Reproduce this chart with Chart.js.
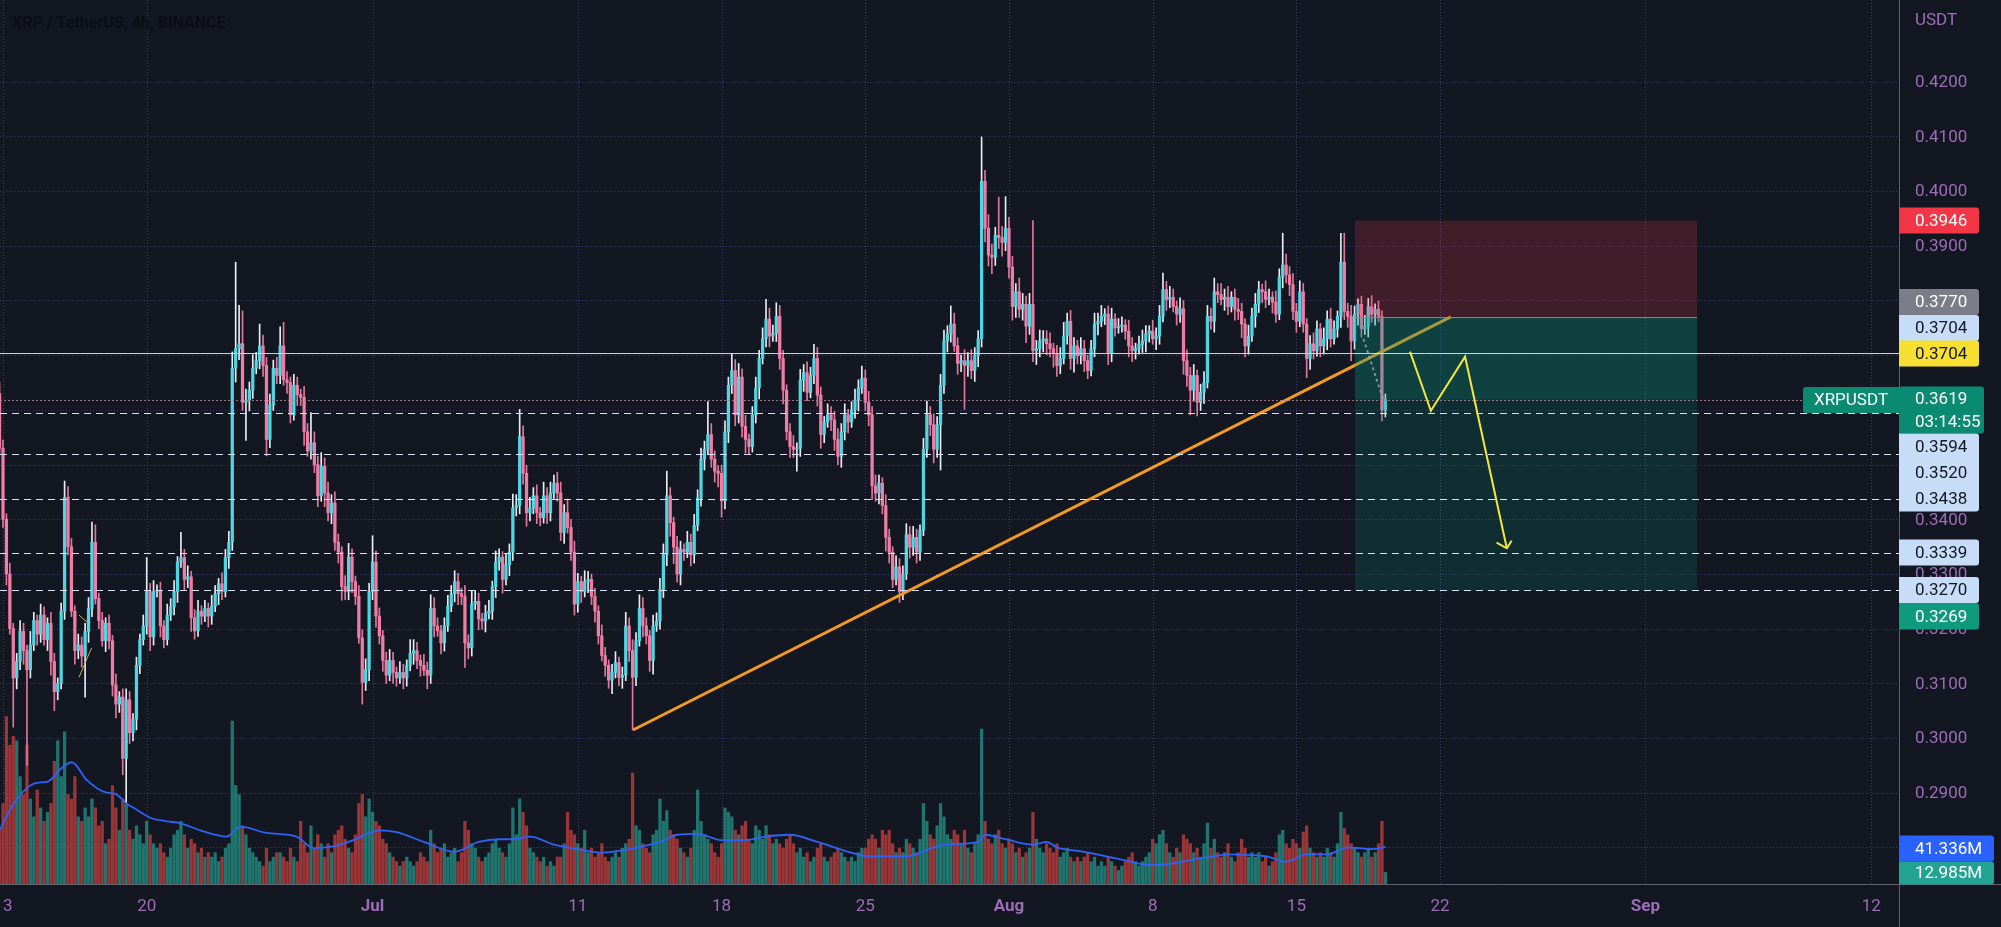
<!DOCTYPE html>
<html lang="en">
<head>
<meta charset="utf-8">
<title>XRP / TetherUS, 4h, BINANCE</title>
<script src="https://cdn.jsdelivr.net/npm/chart.js@4.4.1/dist/chart.umd.min.js"></script>
<style>
  html, body { margin: 0; padding: 0; background: #131722; overflow: hidden; }
  canvas { display: block; }
</style>
</head>
<body>
<canvas id="xrpChart" width="2001" height="927"></canvas>
<script>
/**
 * XRP / TetherUS 4h candles (Binance), drawn with Chart.js floating bars.
 * Bar index 0 = 13 Jun 00:00, one step = 4 hours. Prices are in 1/10000 USDT.
 */
const FIRST_BAR = -1;
const FIRST_OPEN = 3630;

const closes = [
    // -1 .. 80
    3530, 3400, 3300, 3200, 3110, 3140, 3195, 3160, 3125, 3170,
    3215, 3190, 3225, 3180, 3210, 3140, 3085, 3100, 3232, 3440,
    3350, 3232, 3160, 3170, 3150, 3195, 3237, 3358, 3255, 3215,
    3178, 3210, 3178, 3097, 3062, 3075, 2963, 3070, 3010, 3035,
    3133, 3180, 3205, 3268, 3185, 3268, 3270, 3205, 3180, 3225,
    3240, 3268, 3322, 3330, 3290, 3295, 3220, 3196, 3232, 3223,
    3237, 3223, 3241, 3264, 3282, 3268, 3330, 3358, 3676, 3712,
    3721, 3614, 3618, 3636, 3676, 3690, 3717, 3681, 3546, 3609,
    3676, 3663, 3717, 3655, 3650, 3591, 3645, 3628, 3623, 3560,
    3525, 3540, 3500, 3443, 3497, 3448, 3412, 3430, 3358, 3340,
    3277, 3268, 3331, 3286, 3259, 3183, 3102, 3125, 3268, 3322,
    3223, 3187, 3142, 3115, 3142, 3120, 3110, 3120, 3110, 3133,
    3155, 3160, 3142, 3133, 3124, 3115, 3237, 3205, 3196, 3174,
    3205, 3241, 3264, 3286, 3264, 3259, 3174, 3165, 3245, 3250,
    3218, 3214, 3228, 3232, 3277, 3322, 3331, 3290, 3317, 3340,
    3421, 3425, 3551, 3484, 3412, 3420, 3443, 3412, 3403, 3443,
    3412, 3448, 3466, 3448, 3376, 3412, 3385, 3340, 3245, 3286,
    3268, 3286, 3290, 3259, 3232, 3187, 3151, 3133, 3106, 3120,
    3138, 3111, 3115, 3205, 3160, 3111, 3178, 3237, 3205, 3187,
    3142, 3205, 3214, 3272, 3335, 3443, 3394, 3349, 3300, 3345,
    3340, 3358, 3335, 3389, 3439, 3510, 3528, 3555, 3510, 3488,
    3484, 3434, 3560, 3645, 3672, 3591, 3660, 3570, 3546, 3533,
    3591, 3640, 3694, 3730, 3766, 3735, 3740, 3771, 3694, 3636,
    3560, 3533, 3528, 3530, 3654, 3668, 3632, 3663, 3694, 3627,
    3555, 3578, 3591, 3582, 3546, 3515, 3560, 3591, 3578, 3600,
    3618, 3640, 3658, 3614, 3591, 3461, 3448, 3466, 3425, 3367,
    3340, 3290, 3313, 3268, 3300, 3372, 3349, 3367, 3340, 3380,
    3528, 3591, 3573, 3528, 3573, 3645, 3726, 3739, 3757, 3717,
    3685, 3690, 3681, 3690, 3672, 3699, 3730, 4018, 3932, 3883,
    3879, 3919, 3915, 3906, 3932, 3861, 3789, 3816, 3784, 3793,
    3753, 3793, 3708, 3712, 3726, 3730, 3721, 3712, 3703, 3681,
    3694, 3735, 3762, 3694, 3717, 3699, 3712, 3690, 3672, 3712,
    3757, 3762, 3771, 3775, 3703, 3766, 3750, 3752, 3755, 3744,
    3717, 3708, 3712, 3720, 3726, 3739, 3744, 3730, 3735, 3771,
    3820, 3802, 3806, 3789, 3775, 3785, 3690, 3663, 3636, 3663,
    3614, 3632, 3650, 3771, 3762, 3816, 3811, 3802, 3806, 3789,
    3806, 3784, 3780, 3757, 3717, 3735, 3771, 3793, 3820, 3816,
    3802, 3806, 3797, 3775, 3843, 3865, 3847, 3829, 3780, 3762,
    3816, 3757, 3694, 3721, 3708, 3748, 3717, 3730, 3766, 3730,
    3748, 3771, 3870, 3780, 3771, 3726, 3775, 3793, 3748, 3753,
    3789, 3775, 3784, 3771, 3600, 3619
];

// wick length above the body / below the body, same units
const wickUp = [
    20, 15, 10, 20, 10, 15, 20, 15, 10, 25,
    15, 10, 20, 15, 10, 20, 15, 10, 15, 30,
    20, 15, 10, 20, 15, 15, 20, 37, 32, 10,
    15, 10, 15, 10, 20, 10, 15, 20, 15, 10,
    15, 10, 20, 62, 15, 20, 10, 15, 10, 20,
    15, 20, 10, 46, 15, 20, 10, 15, 20, 10,
    15, 10, 20, 15, 10, 20, 15, 20, 30, 158,
    70, 60, 20, 15, 25, 15, 40, 20, 15, 20,
    15, 20,
    35, 43, 15, 10, 20, 15, 10, 20, 15, 55,
    20, 15, 25, 15, 20, 15, 20, 15, 10, 20,
    25, 15, 10, 20, 15, 20, 15, 48, 20, 15,
    10, 15, 20, 15, 10, 20, 15, 10, 25, 20,
    15, 10, 20, 15, 25, 20, 15, 10, 15, 20,
    15, 20, 15, 10, 20, 15, 25, 20, 15, 10,
    15, 20, 10, 20, 15, 10, 20, 15, 25, 20,
    50, 20, 15, 20, 15, 20, 10, 25, 15, 20,
    15, 20,
    20, 15, 25, 15, 20, 15, 10, 20, 15, 10,
    15, 10, 20, 15, 10, 15, 20, 10, 15, 25,
    15, 20, 15, 25, 20, 15, 10, 20, 15, 20,
    20, 45, 15, 10, 20, 15, 10, 20, 15, 20,
    15, 20, 15, 60, 20, 15, 10, 15, 20, 15,
    30, 20, 25, 15, 20, 10, 15, 20, 15, 20,
    36, 20, 15, 25, 20, 15, 10, 15, 20, 10,
    20, 15, 20, 15, 26, 20, 15, 10, 20, 15,
    15, 20,
    15, 20, 10, 15, 20, 15, 22, 15, 20, 15,
    20, 15, 10, 20, 15, 10, 20, 15, 15, 20,
    15, 20, 15, 10, 20, 25, 15, 20, 15, 20,
    20, 15, 33, 20, 15, 10, 20, 15, 20, 15,
    15, 81, 20, 25, 20, 15, 70, 20, 58, 20,
    20, 15, 25, 20, 15, 20, 153, 15, 20, 15,
    15, 20, 10, 15, 20, 25, 15, 20, 15, 10,
    20, 15, 10, 15, 20, 15, 20, 10, 15, 20,
    10, 15,
    15, 10, 20, 15, 10, 15, 20, 15, 10, 20,
    15, 20, 30, 15, 20, 15, 10, 20, 15, 20,
    15, 20, 10, 15, 20, 20, 15, 25, 15, 20,
    15, 20, 10, 15, 20, 15, 10, 20, 15, 20,
    15, 10, 20, 15, 10, 20, 15, 58, 20, 15,
    20, 15, 20, 15, 10, 15, 20, 15, 10, 20,
    15, 20, 15, 10, 53, 53, 15, 20, 15, 10,
    15, 20, 15, 20, 10, 15, 10, 10
];

const wickDown = [
    10, 15, 20, 10, 90, 20, 15, 25, 175, 15,
    10, 20, 15, 10, 20, 25, 35, 15, 10, 15,
    15, 10, 25, 15, 20, 75, 20, 15, 10, 15,
    10, 20, 15, 20, 25, 15, 30, 80, 20, 15,
    20, 15, 10, 15, 25, 15, 10, 20, 15, 10,
    10, 15, 20, 10, 20, 15, 25, 15, 10, 15,
    10, 20, 15, 10, 20, 15, 10, 20, 15, 25,
    20, 15, 70, 20, 15, 10, 15, 20, 30, 15,
    10, 15,
    15, 10, 20, 15, 10, 20, 15, 25, 10, 15,
    15, 20, 10, 25, 15, 20, 15, 20, 25, 15,
    15, 20, 15, 10, 40, 15, 20, 15, 20, 15,
    20, 15, 10, 20, 15, 10, 20, 15, 10, 20,
    15, 20, 10, 25, 15, 20, 10, 20, 15, 10,
    10, 15, 20, 15, 45, 20, 15, 10, 20, 15,
    20, 10, 15, 20, 15, 25, 10, 20, 15, 15,
    15, 20, 25, 15, 10, 20, 15, 10, 20, 15,
    10, 15,
    15, 20, 10, 15, 20, 15, 20, 10, 20, 15,
    20, 15, 10, 20, 15, 25, 10, 15, 20, 10,
    20, 96, 15, 10, 20, 15, 20, 25, 10, 15,
    15, 20, 25, 30, 15, 20, 15, 10, 20, 15,
    10, 15, 20, 10, 15, 20, 25, 30, 15, 20,
    15, 20, 15, 20, 25, 15, 10, 15, 20, 10,
    15, 20, 10, 15, 20, 25, 15, 20, 15, 40,
    15, 20, 15, 10, 15, 20, 25, 15, 10, 20,
    20, 15,
    20, 15, 20, 10, 15, 20, 10, 15, 20, 25,
    15, 20, 15, 25, 20, 15, 10, 20, 15, 10,
    20, 15, 20, 15, 10, 15, 20, 25, 15, 83,
    15, 20, 15, 10, 20, 15, 80, 20, 15, 20,
    20, 15, 25, 20, 30, 15, 20, 25, 15, 20,
    25, 20, 15, 20, 30, 15, 20, 25, 15, 20,
    20, 15, 25, 20, 15, 10, 15, 20, 25, 15,
    15, 20, 15, 10, 15, 20, 10, 15, 20, 15,
    15, 10,
    10, 15, 20, 20, 15, 10, 15, 20, 15, 10,
    20, 15, 10, 20, 15, 10, 20, 15, 25, 20,
    45, 20, 25, 15, 20, 10, 15, 20, 15, 10,
    20, 15, 10, 20, 15, 25, 20, 15, 10, 20,
    15, 20, 15, 10, 20, 15, 10, 20, 15, 20,
    15, 20, 10, 15, 35, 20, 15, 10, 20, 15,
    20, 15, 10, 15, 20, 15, 20, 36, 15, 20,
    15, 10, 20, 15, 20, 10, 20, 13
];

// volume per candle, millions of XRP
const volumes = [
    60, 90, 187, 155, 165, 160, 120, 100, 155, 95,
    75, 105, 85, 70, 80, 90, 137, 160, 120, 170,
    100, 95, 120, 75, 70, 85, 75, 95, 85, 65,
    70, 45, 50, 110, 85, 60, 95, 90, 60, 50,
    65, 55, 45, 70, 55, 45, 40, 45, 35, 30,
    40, 55, 60, 70, 55, 40, 50, 45, 35, 40,
    30, 35, 30, 35, 25, 30, 40, 45, 182, 110,
    100, 65, 55, 40, 35, 30, 25, 20, 40, 25,
    30, 35,
    35, 30, 25, 40, 30, 25, 70, 45, 35, 65,
    40, 55, 45, 30, 45, 35, 55, 60, 65, 50,
    40, 35, 55, 90, 100, 75, 95, 80, 70, 65,
    50, 45, 35, 30, 25, 20, 25, 30, 25, 20,
    25, 35, 30, 25, 60, 45, 35, 40, 45, 30,
    35, 40, 25, 35, 70, 60, 45, 40, 30, 25,
    30, 35, 45, 50, 40, 35, 30, 45, 85, 55,
    95, 80, 65, 40, 35, 30, 25, 30, 20, 25,
    20, 30,
    30, 45, 80, 60, 55, 45, 40, 60, 35, 40,
    30, 35, 45, 30, 25, 30, 35, 30, 40, 45,
    50, 124, 65, 60, 45, 40, 35, 55, 60, 95,
    70, 82, 60, 55, 50, 40, 35, 30, 40, 60,
    105, 70, 55, 50, 45, 35, 30, 45, 85, 80,
    75, 60, 55, 65, 70, 50, 45, 65, 60, 50,
    65, 55, 45, 50, 45, 40, 50, 55, 45, 35,
    40, 30, 35, 25, 30, 40, 45, 30, 25, 30,
    35, 40,
    35, 30, 25, 30, 25, 35, 40, 40, 50, 55,
    50, 40, 60, 55, 60, 45, 35, 40, 35, 50,
    45, 40, 35, 50, 90, 70, 55, 50, 65, 90,
    75, 55, 50, 60, 55, 45, 60, 40, 35, 45,
    55, 173, 70, 50, 45, 55, 60, 45, 40, 50,
    45, 35, 40, 30, 35, 40, 80, 50, 40, 35,
    45, 40, 35, 45, 30, 35, 40, 30, 25, 30,
    25, 30, 35, 25, 30, 20, 25, 20, 30, 25,
    20, 15,
    20, 25, 30, 35, 25, 20, 25, 30, 35, 50,
    45, 55, 60, 45, 35, 30, 40, 35, 55, 50,
    45, 35, 40, 30, 45, 68, 40, 50, 35, 30,
    35, 45, 30, 25, 35, 50, 40, 30, 35, 30,
    35, 25, 30, 20, 25, 35, 55, 60, 45, 40,
    50, 45, 40, 58, 65, 40, 35, 30, 35, 30,
    40, 35, 30, 45, 80, 62, 55, 45, 40, 35,
    30, 35, 40, 30, 35, 45, 70, 12.985
];

// volume moving average, read at a few bars
const volMaBars = [-1, 3.5, 9.8, 12.8, 17.6, 20.1, 24.5, 30.3, 32.7, 36.1, 39.1, 43, 47.8, 51.7, 57.6,
    65.4, 69.3, 77.1, 85.8, 90.7, 96.5, 102.4, 110.2, 115, 123, 132, 139, 145, 149, 154, 161, 165, 175,
    183, 192, 197, 203, 210, 217, 223, 230, 238, 247, 253, 264, 275, 285, 287, 293, 301, 305, 308, 316,
    326, 336, 352, 358, 369, 375, 381, 387, 393, 400, 404];
const volMaValues = [60, 92, 113, 114, 131, 136, 116, 102, 101, 90, 83, 74, 70, 68, 60,
    53, 64, 57, 53, 40, 42, 49, 60, 58, 47, 36, 47, 50, 50, 53, 44, 41, 35,
    39, 47, 55, 56, 49, 49, 53, 55, 47, 36, 31, 31, 44, 47, 55, 50, 44, 47, 41, 36,
    28, 21, 30, 33, 31, 25, 33, 33, 41, 39, 41.336];

// axis labels
const xTickBars = [0, 42, 108, 168, 210, 252, 294, 336, 378, 420, 480, 546];
const xTickLabels = ['13', '20', 'Jul', '11', '18', '25', 'Aug', '8', '15', '22', 'Sep', '12'];
const monthLabels = ['Jul', 'Aug', 'Sep'];
const priceTicks = [0.28, 0.29, 0.30, 0.31, 0.32, 0.33, 0.34, 0.35, 0.36, 0.37, 0.38, 0.39, 0.40, 0.41, 0.42];

// drawings
const pivotPrice = 0.3704;
const levelPrices = [0.3594, 0.3520, 0.3438, 0.3339, 0.3270];
const lastPrice = 0.3619;
const stopPrice = 0.3946;
const entryPrice = 0.3770;
const targetPrice = 0.3269;
const positionBars = [395.1, 495.1];
const trendBars = [184.1, 423.1];
const trendPrices = [0.30148, 0.3770];
const arrowBars = [411.2, 417.3, 427.3, 439.5];
const arrowPrices = [0.37064, 0.35985, 0.36973, 0.33470];
const arrowHeadBars = [436.5, 439.5, 440.9];
const arrowHeadPrices = [0.33572, 0.33470, 0.33609];
const projBars = [397.6, 403.4];
const projPrices = [0.3730, 0.3618];
const markBars = [[22.2, 24.9], [22.2, 25.9]];
const markPrices = [[0.3225, 0.3210], [0.3111, 0.3165]];

const BG = '#131722';
const AXIS_TEXT = '#9d6db6';
const GRID = 'rgba(96, 88, 178, 0.55)';
const UP_BODY = '#4fd6e3';
const DOWN_BODY = '#ef7ea6';
const UP_WICK = '#e6edf5';
const DOWN_WICK = '#e2779e';
const VOL_UP = 'rgba(38, 150, 138, 0.75)';
const VOL_DOWN = 'rgba(200, 64, 64, 0.75)';
const FONT = "Roboto, 'Noto Sans', sans-serif";

const toPrice = v => v / 10000;
const barIdx = closes.map((c, i) => FIRST_BAR + i);
const opens = closes.map((c, i) => (i === 0 ? FIRST_OPEN : closes[i - 1]));
const isUp = closes.map((c, i) => c >= opens[i]);

const bodyData = closes.map((c, i) => ({ x: barIdx[i], y: [toPrice(opens[i]), toPrice(c)] }));
const wickData = closes.map((c, i) => ({
    x: barIdx[i],
    y: [toPrice(Math.min(opens[i], c) - wickDown[i]), toPrice(Math.max(opens[i], c) + wickUp[i])]
}));
const volData = volumes.map((v, i) => ({ x: barIdx[i], y: v }));
const volMaData = volMaBars.map((b, i) => ({ x: b, y: volMaValues[i] }));

/**
 * Price tag on the right axis
 */
function drawTag(ctx, yTop, h, w, bg, fg, lines) {
    ctx.fillStyle = bg;
    ctx.beginPath();
    ctx.roundRect(1899, yTop, w, h, [0, 3, 3, 0]);
    ctx.fill();
    ctx.fillStyle = fg;
    ctx.font = `17px ${FONT}`;
    ctx.textAlign = 'left';
    ctx.textBaseline = 'middle';
    const step = h / lines.length;
    lines.forEach((t, i) => ctx.fillText(t, 1915, yTop + step * (i + 0.5) + 1));
}

const overlayPlugin = {
    id: 'overlay',
    beforeDraw(chart) {
        const { ctx } = chart;
        ctx.save();
        ctx.fillStyle = BG;
        ctx.fillRect(0, 0, chart.width, chart.height);
        ctx.restore();
    },
    beforeDatasetsDraw(chart) {
        const { ctx, chartArea: a, scales: { x, y } } = chart;
        ctx.save();
        ctx.strokeStyle = GRID;
        ctx.lineWidth = 1;
        ctx.setLineDash([1, 2]);
        ctx.beginPath();
        xTickBars.forEach(b => {
            const X = Math.round(x.getPixelForValue(b)) + 0.5;
            ctx.moveTo(X, a.top);
            ctx.lineTo(X, a.bottom);
        });
        priceTicks.forEach(p => {
            const Y = Math.round(y.getPixelForValue(p)) + 0.5;
            ctx.moveTo(a.left, Y);
            ctx.lineTo(a.right, Y);
        });
        ctx.stroke();
        ctx.restore();
    },
    afterDatasetsDraw(chart) {
        const { ctx, chartArea: a, scales: { x, y } } = chart;
        const sx = v => x.getPixelForValue(v);
        const sy = v => y.getPixelForValue(v);
        ctx.save();
        ctx.beginPath();
        ctx.rect(a.left, a.top, a.right - a.left, a.bottom - a.top);
        ctx.clip();

        // short position box
        const x0 = sx(positionBars[0]), x1 = sx(positionBars[1]);
        ctx.fillStyle = 'rgba(242, 54, 69, 0.2)';
        ctx.fillRect(x0, sy(stopPrice), x1 - x0, sy(entryPrice) - sy(stopPrice));
        ctx.fillStyle = 'rgba(8, 153, 129, 0.18)';
        ctx.fillRect(x0, sy(entryPrice), x1 - x0, sy(targetPrice) - sy(entryPrice));
        ctx.fillRect(x0, sy(entryPrice), x1 - x0, sy(lastPrice) - sy(entryPrice));
        ctx.strokeStyle = '#858893';
        ctx.lineWidth = 1;
        ctx.beginPath();
        ctx.moveTo(x0, Math.round(sy(entryPrice)) + 0.5);
        ctx.lineTo(x1, Math.round(sy(entryPrice)) + 0.5);
        ctx.stroke();

        const hLine = (p, color, dash) => {
            const Y = Math.round(sy(p)) + 0.5;
            ctx.strokeStyle = color;
            ctx.setLineDash(dash);
            ctx.beginPath();
            ctx.moveTo(a.left, Y);
            ctx.lineTo(a.right, Y);
            ctx.stroke();
        };
        hLine(pivotPrice, '#c9d2ee', []);
        levelPrices.forEach(p => hLine(p, '#d9e1f4', [7, 5]));
        hLine(lastPrice, 'rgba(175, 130, 150, 0.85)', [2, 2]);

        // grey projected path on the last candles
        ctx.strokeStyle = 'rgba(170, 172, 182, 0.75)';
        ctx.lineWidth = 2;
        ctx.setLineDash([3, 3]);
        ctx.beginPath();
        ctx.moveTo(sx(projBars[0]), sy(projPrices[0]));
        ctx.lineTo(sx(projBars[1]), sy(projPrices[1]));
        ctx.stroke();

        // yellow path with arrow
        ctx.setLineDash([]);
        ctx.strokeStyle = '#f3e63f';
        ctx.lineWidth = 2;
        ctx.beginPath();
        arrowBars.forEach((b, i) => {
            if (i === 0) ctx.moveTo(sx(b), sy(arrowPrices[i]));
            else ctx.lineTo(sx(b), sy(arrowPrices[i]));
        });
        ctx.stroke();
        ctx.beginPath();
        arrowHeadBars.forEach((b, i) => {
            if (i === 0) ctx.moveTo(sx(b), sy(arrowHeadPrices[i]));
            else ctx.lineTo(sx(b), sy(arrowHeadPrices[i]));
        });
        ctx.stroke();

        // small marks near 17 Jun
        ctx.strokeStyle = '#cdb04a';
        ctx.lineWidth = 1;
        markBars.forEach((bs, i) => {
            ctx.beginPath();
            ctx.moveTo(sx(bs[0]), sy(markPrices[i][0]));
            ctx.lineTo(sx(bs[1]), sy(markPrices[i][1]));
            ctx.stroke();
        });
        ctx.restore();
    },
    afterDraw(chart) {
        const { ctx, scales: { x, y } } = chart;
        ctx.save();
        // axis borders
        ctx.strokeStyle = '#5f626d';
        ctx.lineWidth = 1;
        ctx.beginPath();
        ctx.moveTo(1899.5, 0);
        ctx.lineTo(1899.5, 927);
        ctx.moveTo(0, 884.5);
        ctx.lineTo(2001, 884.5);
        ctx.stroke();

        // tick labels, placed through the chart scales
        ctx.fillStyle = AXIS_TEXT;
        ctx.textBaseline = 'middle';
        ctx.textAlign = 'left';
        ctx.font = `17px ${FONT}`;
        priceTicks.forEach(p => ctx.fillText(p.toFixed(4), 1915, y.getPixelForValue(p) + 1));
        ctx.textAlign = 'center';
        xTickBars.forEach((b, i) => {
            const bold = monthLabels.includes(xTickLabels[i]);
            ctx.font = `${bold ? 'bold ' : ''}17px ${FONT}`;
            ctx.fillText(xTickLabels[i], x.getPixelForValue(b), 907);
        });

        // price tags
        const LIGHT = '#c7dcf6';
        const DARK = '#131722';
        drawTag(ctx, 207.5, 26, 80, '#f23645', '#ffffff', [stopPrice.toFixed(4)]);
        drawTag(ctx, 289, 26, 80, '#7b7e89', '#ffffff', [entryPrice.toFixed(4)]);
        drawTag(ctx, 315, 26, 80, LIGHT, DARK, [pivotPrice.toFixed(4)]);
        drawTag(ctx, 340.5, 26, 80, '#f8e033', DARK, [pivotPrice.toFixed(4)]);
        drawTag(ctx, 386.5, 47, 85, '#0b8a72', '#ffffff', [lastPrice.toFixed(4), '03:14:55']);
        drawTag(ctx, 433.5, 78, 80, LIGHT, DARK, levelPrices.slice(0, 3).map(p => p.toFixed(4)));
        drawTag(ctx, 539.5, 26, 80, LIGHT, DARK, [levelPrices[3].toFixed(4)]);
        drawTag(ctx, 577, 26, 80, LIGHT, DARK, [levelPrices[4].toFixed(4)]);
        drawTag(ctx, 603, 26.5, 80, '#109a7d', '#ffffff', [targetPrice.toFixed(4)]);
        drawTag(ctx, 835.5, 26, 95, '#2962ff', '#ffffff', [volMaValues[volMaValues.length - 1].toFixed(3) + 'M']);
        drawTag(ctx, 861.5, 23, 95, '#22a394', '#ffffff', [volumes[volumes.length - 1].toFixed(3) + 'M']);

        // symbol tag left of the axis
        ctx.fillStyle = '#0b8a72';
        ctx.beginPath();
        ctx.roundRect(1803, 387, 96, 26, [3, 0, 0, 3]);
        ctx.fill();
        ctx.fillStyle = '#ffffff';
        ctx.font = `17px ${FONT}`;
        ctx.textAlign = 'center';
        ctx.textBaseline = 'middle';
        ctx.fillText('XRPUSDT', 1851, 401);

        // currency and title
        ctx.fillStyle = AXIS_TEXT;
        ctx.textAlign = 'left';
        ctx.fillText('USDT', 1915, 21);
        ctx.fillStyle = '#0b0e15';
        ctx.font = `bold 16px ${FONT}`;
        ctx.fillText('XRP / TetherUS, 4h, BINANCE', 12, 24);
        ctx.restore();
    }
};

const ctx = document.getElementById('xrpChart');

new Chart(ctx, {
    type: 'bar',
    data: {
        datasets: [
            {
                label: 'Volume',
                type: 'bar',
                yAxisID: 'yv',
                data: volData,
                backgroundColor: isUp.map(u => (u ? VOL_UP : VOL_DOWN)),
                barThickness: 2.6,
                grouped: false,
                order: 10
            },
            {
                label: 'Volume MA',
                type: 'line',
                yAxisID: 'yv',
                data: volMaData,
                borderColor: '#2f62f5',
                borderWidth: 1.8,
                pointRadius: 0,
                cubicInterpolationMode: 'monotone',
                order: 9
            },
            {
                label: 'Wicks',
                type: 'bar',
                yAxisID: 'y',
                data: wickData,
                backgroundColor: isUp.map(u => (u ? UP_WICK : DOWN_WICK)),
                barThickness: 1,
                grouped: false,
                order: 6
            },
            {
                label: 'Bodies',
                type: 'bar',
                yAxisID: 'y',
                data: bodyData,
                backgroundColor: isUp.map(u => (u ? UP_BODY : DOWN_BODY)),
                barThickness: 2.6,
                grouped: false,
                order: 5
            },
            {
                label: 'Trendline',
                type: 'line',
                yAxisID: 'y',
                data: trendBars.map((b, i) => ({ x: b, y: trendPrices[i] })),
                borderColor: '#f39a1f',
                borderWidth: 3,
                pointRadius: 0,
                order: 4
            }
        ]
    },
    options: {
        responsive: false,
        animation: false,
        events: [],
        layout: { padding: 0, autoPadding: false },
        plugins: {
            legend: { display: false },
            tooltip: { enabled: false }
        },
        scales: {
            x: {
                type: 'linear',
                position: 'bottom',
                min: -0.877,
                max: 554.11,
                offset: false,
                afterFit: s => { s.height = 43; },
                afterBuildTicks: s => { s.ticks = xTickBars.map(v => ({ value: v })); },
                grid: { display: false, drawTicks: false },
                border: { display: false },
                ticks: { display: false }
            },
            y: {
                type: 'linear',
                position: 'right',
                min: 0.273327,
                max: 0.434936,
                afterFit: s => { s.width = 102; },
                afterBuildTicks: s => { s.ticks = priceTicks.map(v => ({ value: v })); },
                grid: { display: false, drawTicks: false },
                border: { display: false },
                ticks: { display: false }
            },
            yv: {
                type: 'linear',
                display: false,
                min: 0,
                max: 987.4
            }
        }
    },
    plugins: [overlayPlugin]
});
</script>
</body>
</html>
